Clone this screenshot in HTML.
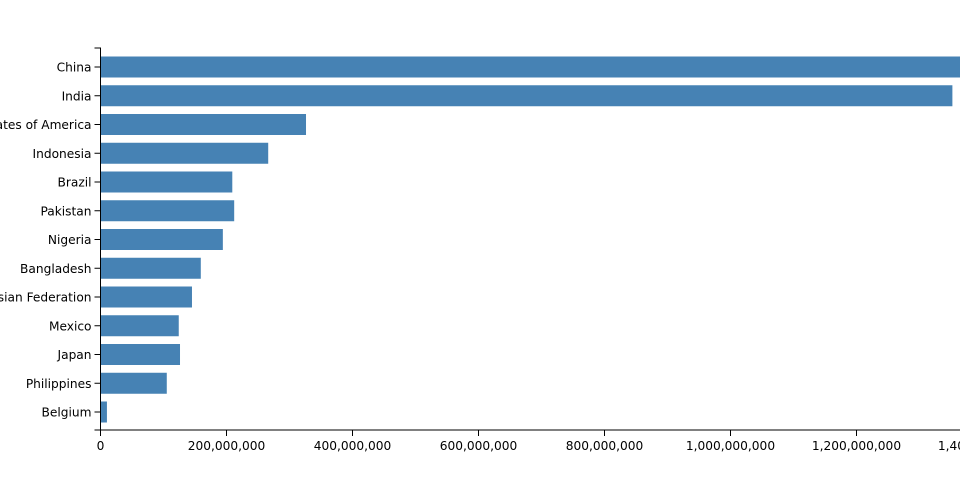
<!DOCTYPE html>
<html><head><meta charset="utf-8"><style>
body{margin:0;background:#fff;}
svg{display:block;font-family:"DejaVu Sans","Liberation Sans",sans-serif;}
</style></head><body>
<svg id="chart" width="960" height="500"></svg>
<script>
const categories=["China","India","United States of America","Indonesia","Brazil","Pakistan","Nigeria","Bangladesh","Russian Federation","Mexico","Japan","Philippines","Belgium"];
const populations=[1386,1353,327,267,210,213,195,160,146,125,127,106,11];
const tickValues=[0,200,400,600,800,1000,1200,1400];
const tickLabels=["0","200,000,000","400,000,000","600,000,000","800,000,000","1,000,000,000","1,200,000,000","1,400,000,000"];
const NS="http://www.w3.org/2000/svg";
const svg=document.getElementById('chart');
const x0=100.5,pxPer=0.63,axisY=430,topY=48;
const xScale=v=>x0+v*pxPer;
const yCenter=i=>67+i*28.75;
function mk(t,a){const e=document.createElementNS(NS,t);for(const k in a)e.setAttribute(k,a[k]);svg.appendChild(e);return e;}
categories.forEach((c,i)=>{
  const r=mk('rect',{x:x0,y:yCenter(i)-11,width:xScale(populations[i])-x0,height:22,fill:'#4682b4',stroke:'#fff','stroke-width':1});
  
  
  mk('line',{x1:x0-6,x2:x0,y1:yCenter(i),y2:yCenter(i),stroke:'#000'});
  const t=mk('text',{x:x0-9,y:yCenter(i)+4.5,'text-anchor':'end','font-size':12.2,fill:'#000'});
  t.textContent=c;
  
  
});
const ya=mk('path',{d:`M${x0-6},${topY}H${x0}V${axisY}H${x0-6}`,fill:'none',stroke:'#000'});


const xa=mk('path',{d:`M${x0},${axisY+6}V${axisY}H${xScale(1400)}V${axisY+6}`,fill:'none',stroke:'#000'});


tickValues.forEach((v,i)=>{
  mk('line',{x1:xScale(v),x2:xScale(v),y1:axisY,y2:axisY+6,stroke:'#000'});
  const t=mk('text',{x:xScale(v),y:axisY+20,'text-anchor':'middle','font-size':12.2,fill:'#000'});
  t.textContent=tickLabels[i];
  
  
});
</script>
</body></html>
